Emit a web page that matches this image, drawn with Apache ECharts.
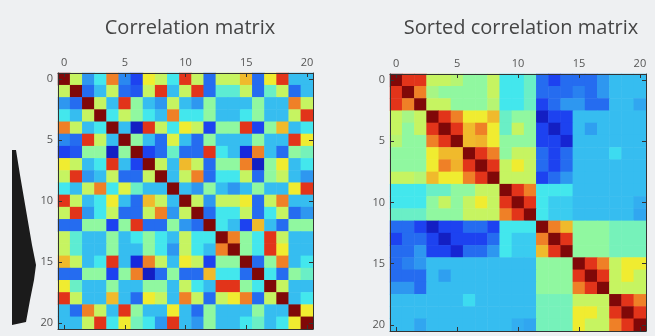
<!DOCTYPE html>
<html>
<head>
<meta charset="utf-8">
<script src="https://cdn.jsdelivr.net/npm/echarts@6/dist/echarts.min.js"></script>
<style>
  html, body { margin: 0; padding: 0; background: #eef0f2; }
  #chart { width: 655px; height: 336px; }
</style>
</head>
<body>
<div id="chart"></div>
<script>
// tick labels for both matrices (variable index 0..20)
const labels = ['0','1','2','3','4','5','6','7','8','9','10','11','12','13','14','15','16','17','18','19','20'];

// raw correlation matrix (jet scale 0..1)
const rawMatrix = [
  [1, .57, .27, .38, .76, .25, .15, .63, .57, .38, .86, .57, .21, .57, .57, .69, .21, .63, .86, .32, .32],
  [.57, 1, .21, .32, .57, .21, .18, .57, .86, .32, .57, .86, .21, .42, .42, .57, .21, .44, .57, .21, .32],
  [.27, .21, 1, .57, .32, .86, .5, .32, .27, .57, .32, .27, .5, .32, .32, .32, .5, .32, .32, .76, .57],
  [.38, .32, .57, 1, .38, .57, .5, .38, .32, .76, .38, .38, .5, .32, .32, .38, .5, .32, .32, .57, .86],
  [.76, .57, .32, .38, 1, .32, .07, .86, .57, .38, .63, .57, .15, .5, .5, .86, .15, .5, .69, .32, .38],
  [.25, .21, .86, .57, .32, 1, .5, .32, .21, .6, .32, .21, .5, .32, .32, .32, .5, .32, .32, .86, .63],
  [.15, .18, .5, .5, .07, .5, 1, .15, .21, .44, .21, .21, .86, .38, .32, .1, .76, .32, .21, .5, .46],
  [.63, .57, .32, .38, .86, .32, .15, 1, .57, .32, .69, .57, .21, .5, .5, .76, .07, .5, .63, .32, .38],
  [.57, .86, .27, .32, .57, .21, .21, .57, 1, .32, .57, .76, .21, .38, .38, .57, .21, .5, .57, .32, .27],
  [.38, .32, .57, .76, .38, .6, .44, .32, .32, 1, .32, .27, .5, .32, .27, .32, .5, .32, .32, .63, .86],
  [.86, .57, .32, .38, .63, .32, .21, .69, .57, .32, 1, .57, .27, .57, .57, .63, .21, .57, .76, .32, .32],
  [.57, .86, .27, .38, .57, .21, .21, .57, .76, .27, .57, 1, .21, .38, .38, .57, .21, .38, .57, .21, .27],
  [.21, .21, .5, .5, .15, .5, .86, .21, .21, .5, .27, .21, 1, .38, .32, .15, .69, .32, .21, .5, .5],
  [.57, .42, .32, .32, .5, .32, .38, .5, .38, .32, .57, .38, .38, 1, .76, .5, .38, .86, .57, .32, .32],
  [.57, .42, .32, .32, .5, .32, .32, .5, .38, .27, .57, .38, .32, .76, 1, .5, .38, .86, .63, .32, .32],
  [.69, .57, .32, .38, .86, .32, .1, .76, .57, .32, .63, .57, .15, .5, .5, 1, .21, .5, .76, .32, .38],
  [.21, .21, .5, .5, .15, .5, .76, .07, .21, .5, .21, .21, .69, .38, .38, .21, 1, .38, .21, .5, .44],
  [.63, .44, .32, .32, .5, .32, .32, .5, .5, .32, .57, .38, .32, .86, .86, .5, .38, 1, .57, .32, .32],
  [.86, .57, .32, .32, .69, .32, .21, .63, .57, .32, .76, .57, .21, .57, .63, .76, .21, .57, 1, .32, .38],
  [.32, .21, .76, .57, .32, .86, .5, .32, .32, .63, .32, .21, .5, .32, .32, .32, .5, .32, .32, 1, .63],
  [.32, .32, .57, .86, .38, .63, .46, .38, .27, .86, .32, .27, .5, .32, .32, .38, .44, .32, .38, .63, 1]
];

// same matrix after sorting variables into blocks
const sortedMatrix = [
  [1, .86, .86, .57, .57, .55, .5, .5, .57, .38, .38, .44, .21, .15, .21, .21, .21, .27, .32, .32, .32],
  [.86, 1, .76, .53, .5, .5, .5, .5, .57, .38, .38, .44, .21, .21, .21, .24, .21, .27, .32, .32, .32],
  [.86, .76, 1, .57, .57, .5, .5, .5, .55, .38, .38, .44, .15, .21, .27, .27, .21, .21, .32, .32, .29],
  [.57, .53, .57, 1, .86, .76, .63, .63, .69, .44, .5, .5, .07, .15, .15, .32, .32, .32, .32, .32, .32],
  [.57, .5, .57, .86, 1, .86, .69, .76, .63, .44, .57, .5, .15, .07, .15, .32, .28, .32, .32, .32, .32],
  [.55, .5, .5, .76, .86, 1, .69, .7, .63, .5, .5, .5, .15, .15, .09, .32, .32, .32, .32, .32, .32],
  [.5, .5, .5, .63, .69, .69, 1, .86, .76, .5, .57, .57, .21, .15, .21, .32, .32, .32, .36, .32, .32],
  [.5, .5, .5, .63, .76, .7, .86, 1, .86, .57, .63, .57, .21, .15, .21, .32, .32, .32, .32, .32, .32],
  [.57, .57, .55, .69, .63, .63, .76, .86, 1, .57, .57, .57, .15, .21, .27, .32, .32, .32, .32, .32, .32],
  [.38, .38, .38, .44, .44, .5, .5, .57, .57, 1, .86, .76, .38, .38, .38, .32, .32, .32, .32, .32, .32],
  [.38, .38, .38, .5, .57, .5, .57, .63, .57, .86, 1, .86, .38, .34, .34, .32, .32, .32, .32, .32, .3],
  [.44, .44, .44, .5, .5, .5, .57, .57, .57, .76, .86, 1, .38, .34, .34, .32, .32, .32, .32, .32, .29],
  [.21, .21, .15, .07, .15, .15, .21, .21, .15, .38, .38, .38, 1, .76, .69, .5, .5, .5, .46, .46, .46],
  [.15, .21, .21, .15, .07, .15, .15, .15, .21, .38, .34, .34, .76, 1, .86, .5, .5, .5, .46, .46, .46],
  [.21, .21, .27, .15, .15, .09, .21, .21, .27, .38, .34, .34, .69, .86, 1, .5, .5, .5, .46, .46, .46],
  [.21, .24, .27, .32, .32, .32, .32, .32, .32, .32, .32, .32, .5, .5, .5, 1, .86, .76, .57, .63, .63],
  [.21, .21, .21, .32, .28, .32, .32, .32, .32, .32, .32, .32, .5, .5, .5, .86, 1, .86, .57, .63, .57],
  [.27, .27, .21, .32, .32, .32, .32, .32, .32, .32, .32, .32, .5, .5, .5, .76, .86, 1, .57, .57, .57],
  [.32, .32, .32, .32, .32, .32, .36, .32, .32, .32, .32, .32, .46, .46, .46, .57, .57, .57, 1, .86, .76],
  [.32, .32, .32, .32, .32, .32, .32, .32, .32, .32, .32, .32, .46, .46, .46, .63, .63, .57, .86, 1, .86],
  [.32, .32, .29, .32, .32, .32, .32, .32, .32, .32, .3, .29, .46, .46, .46, .63, .57, .57, .76, .86, 1]
];

// jet colour map, slightly softened like the video frame
const jet = ['#0a0a8a', '#1a30f0', '#2a88f0', '#40e6f0', '#90f8a0', '#f0f030', '#f08828', '#e02818', '#800808'];

const toCells = (m) => {
  const out = [];
  m.forEach((row, i) => row.forEach((v, j) => out.push([j, i, v])));
  return out;
};

const chart = echarts.init(document.getElementById('chart'));

const font = '"Open Sans", "DejaVu Sans", sans-serif';
const frame = { show: true, lineStyle: { color: '#333', width: 1 } };
const tick = { show: true, inside: true, length: 4, alignWithLabel: true, interval: 4, lineStyle: { color: '#333' } };
const tickLabel = { show: true, interval: 4, color: '#555', fontSize: 11, fontFamily: font, margin: 5 };

const makeX = (gi, pos, showLabel) => ({
  type: 'category', gridIndex: gi, data: labels, position: pos, z: 5,
  axisLine: frame, axisTick: tick,
  axisLabel: showLabel ? tickLabel : { show: false },
  splitLine: { show: false }
});
const makeY = (gi, pos, showLabel) => ({
  type: 'category', gridIndex: gi, data: labels, position: pos, inverse: true, z: 5,
  axisLine: frame, axisTick: tick,
  axisLabel: showLabel ? tickLabel : { show: false },
  splitLine: { show: false }
});

const option = {
  backgroundColor: '#eef0f2',
  animation: false,
  title: [
    { text: 'Correlation matrix', left: 185, top: 13, textAlign: 'center',
      textStyle: { color: '#454545', fontSize: 20, fontWeight: 'normal', fontFamily: font } },
    { text: 'Sorted correlation matrix', left: 516, top: 13, textAlign: 'center',
      textStyle: { color: '#454545', fontSize: 20, fontWeight: 'normal', fontFamily: font } }
  ],
  grid: [
    { left: 58, top: 73, width: 255, height: 256 },
    { left: 390, top: 74, width: 256, height: 257 }
  ],
  xAxis: [makeX(0, 'top', true), makeX(0, 'bottom', false), makeX(1, 'top', true), makeX(1, 'bottom', false)],
  yAxis: [makeY(0, 'left', true), makeY(0, 'right', false), makeY(1, 'left', true), makeY(1, 'right', false)],
  visualMap: {
    show: false, min: 0, max: 1, seriesIndex: [0, 1],
    inRange: { color: jet }
  },
  series: [
    { type: 'heatmap', xAxisIndex: 0, yAxisIndex: 0, data: toCells(rawMatrix),
      emphasis: { disabled: true }, itemStyle: { borderWidth: 0 } },
    { type: 'heatmap', xAxisIndex: 2, yAxisIndex: 2, data: toCells(sortedMatrix),
      emphasis: { disabled: true }, itemStyle: { borderWidth: 0 } }
  ],
  graphic: [
    // dark silhouette at the left edge of the video frame
    { type: 'polygon', z: 0,
      shape: { points: [[12, 150], [16, 150], [20, 175], [26, 210], [32, 245], [36, 265], [34, 280], [30, 300], [26, 322], [12, 325]] },
      style: { fill: '#1b1b1b' } }
  ]
};

chart.setOption(option);
window.addEventListener('resize', () => chart.resize());
</script>
</body>
</html>
